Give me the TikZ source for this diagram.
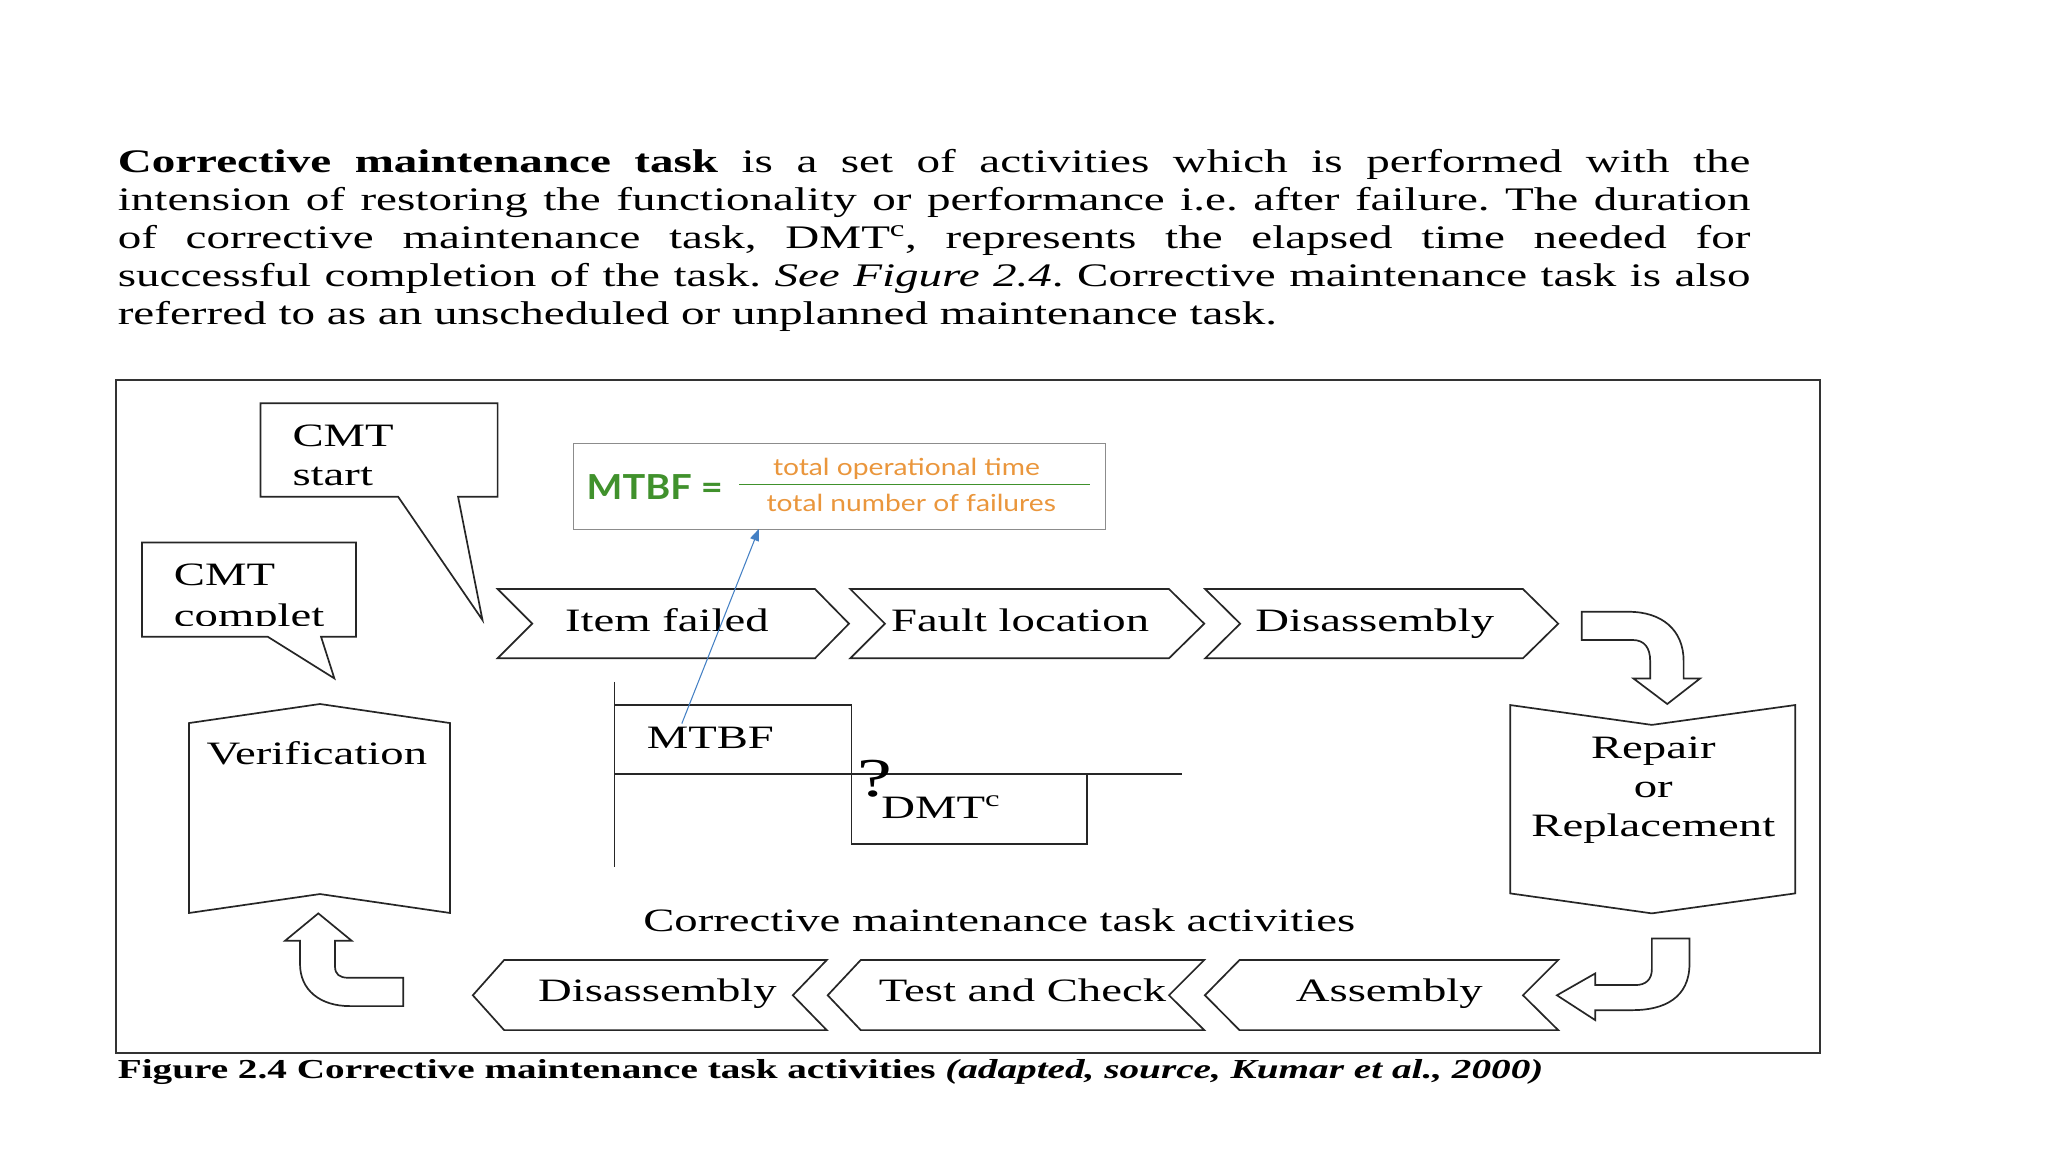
\documentclass[tikz,border=0pt]{standalone}
\usepackage{fontspec}
\setmainfont{Liberation Serif}[FakeStretch=1.43]
\newfontfamily\latofont{Lato}[FakeStretch=1.2]
\newfontfamily\latobold{Lato}[FakeStretch=1.1]
\usetikzlibrary{arrows.meta}
\definecolor{eqgreen}{RGB}{64,145,44}
\definecolor{eqorange}{RGB}{234,150,60}
\definecolor{linkblue}{RGB}{68,128,196}
\frenchspacing

\begin{document}
\begin{tikzpicture}[x=1pt, y=-1pt,
        outline/.style={draw=black!85, line width=1.3pt, fill=white},
        lbl/.style={inner sep=0pt, anchor=base west, font=\fontsize{25}{30}\selectfont},
        clbl/.style={inner sep=0pt, anchor=base, font=\fontsize{25}{30}\selectfont},
        para/.style={inner sep=0pt, anchor=base west, font=\fontsize{25.2}{29.5}\selectfont}]
            \fill[white] (0,0) rectangle (1568,882);
            \useasboundingbox (0,0) rectangle (1568,882);
            % 正文段落, 每行两端对齐
            \node[para] (par1) at (90,132)
                {\makebox[1250pt][s]{\textbf{Corrective maintenance task} is a set of activities which is performed with the}};
            \node[para] (par2) at (90,161.2)
                {\makebox[1250pt][s]{intension of restoring the functionality or performance i.e. after failure. The duration}};
            \node[para] (par3) at (90,190.4)
                {\makebox[1250pt][s]{of corrective maintenance task, DMT\textsuperscript{c}, represents the elapsed time needed for}};
            \node[para] (par4) at (90,219.6)
                {\makebox[1250pt][s]{successful completion of the task. \textit{See Figure 2.4}. Corrective maintenance task is also}};
            \node[para] (par5) at (90,248.8) {referred to as an unscheduled or unplanned maintenance task.};

            % 外框
            \draw[line width=1.5pt, black!80] (89,291) rectangle (1393.5,806.3);

            % 1. 两个对话框
            \draw[outline] (199.4,308.8) -- (381,308.8) -- (381,380.3) -- (350.7,380.3)
                -- (369.4,474.7) -- (304.8,380.3) -- (199.4,380.3) -- cycle;
            \node[lbl] (cmts1) at (223.8,342) {CMT};
            \node[lbl] (cmts2) at (223.8,371.4) {start};
            \draw[outline] (108.7,415.3) -- (272.6,415.3) -- (272.6,487.5) -- (245.8,487.5)
                -- (256,519.4) -- (205,487.5) -- (108.7,487.5) -- cycle;
            \node[lbl] (cmtc1) at (133,448) {CMT};
            \begin{scope}
                \clip (110,417) rectangle (271,479); % 文字下沿被框截掉
                \node[lbl] (cmtc2) at (133,479.6) {complet};
            \end{scope}

            % 2. 上排箭头块
            \draw[outline] (381,451) -- (624,451) -- (650,477.5) -- (624,504) -- (381,504) -- (407.5,477.5) -- cycle;
            \draw[outline] (651,451) -- (895,451) -- (922,477.5) -- (895,504) -- (651,504) -- (677.5,477.5) -- cycle;
            \draw[outline] (922.7,451) -- (1166,451) -- (1193,477.5) -- (1166,504) -- (922.7,504) -- (949.5,477.5) -- cycle;
            \node[lbl] (itemfailed) at (432.5,483.7) {Item failed};
            \node[lbl] (faultloc) at (682,483.7) {Fault location};
            \node[lbl] (disasmtop) at (961,483.7) {Disassembly};

            % 弯箭头 (右上)
            \draw[outline] (1211,468.4) -- (1247,468.4) .. controls (1272,468.4) and (1289,482) .. (1289,506)
                -- (1289,519.4) -- (1301.7,519.4) -- (1276.5,539) -- (1250.5,519.4) -- (1263.4,519.4)
                -- (1263.4,506) .. controls (1263.4,496) and (1259,490) .. (1250,490) -- (1211,490) -- cycle;

            % Repair / Verification
            \draw[outline] (1156.2,539.8) -- (1264.7,555) -- (1374.4,539.8) -- (1374.4,684)
                -- (1264.7,699.3) -- (1156.2,684) -- cycle;
            \node[clbl] (repair1) at (1265.8,580.6) {Repair};
            \node[clbl] (repair2) at (1265.8,610.3) {or};
            \node[clbl] (repair3) at (1265.8,640.6) {Replacement};
            \draw[outline] (144.7,553.6) -- (245,539) -- (344.6,553.6) -- (344.6,699)
                -- (245,684.5) -- (144.7,699) -- cycle;
            \node[lbl] (verif) at (158,585) {Verification};

            % 弯箭头 (右下)
            \draw[outline] (1264.7,718.5) -- (1293.5,718.5) -- (1293.5,738) .. controls (1293.5,764) and (1274,773.4) .. (1250,773.4)
                -- (1221.3,773.4) -- (1221.3,781) -- (1192,762) -- (1221.3,745.3) -- (1221.3,754.2)
                -- (1252,754.2) .. controls (1260,754.2) and (1264.7,750) .. (1264.7,742) -- cycle;

            % 3. 下排箭头块
            \draw[outline] (362,762) -- (386,735) -- (633,735) -- (607,762) -- (633,788.7) -- (386,788.7) -- cycle;
            \draw[outline] (633.7,762) -- (659,735) -- (922,735) -- (895,762) -- (922,788.7) -- (659,788.7) -- cycle;
            \draw[outline] (922.5,762) -- (949,735) -- (1193,735) -- (1166,762) -- (1193,788.7) -- (949,788.7) -- cycle;
            \node[lbl] (disasmbot) at (411.8,767) {Disassembly};
            \node[lbl] (testcheck) at (672.7,767) {Test and Check};
            \node[lbl] (assembly) at (992,767) {Assembly};
            \node[lbl] (activities) at (492.3,713.4) {Corrective maintenance task activities};

            % 弯箭头 (左下, 向上)
            \draw[outline] (243.7,699.3) -- (269.3,720.3) -- (256.5,720.3) -- (256.5,740)
                .. controls (256.5,746) and (260,748.6) .. (266.7,748.6) -- (308.8,748.6) -- (308.8,770.3)
                -- (268,770.3) .. controls (245,770.3) and (229.7,758) .. (229.7,738)
                -- (229.7,720.3) -- (218.2,720.3) -- cycle;

            % 4. MTBF 与 DMT 时间图
            \draw[line width=1.3pt, black!85] (470.4,522) -- (470.4,663.6);
            \draw[line width=1.3pt, black!85] (470.4,539.8) -- (652,539.8) -- (652,592.6);
            \draw[line width=1.3pt, black!85] (470.4,592.6) -- (905,592.6);
            \draw[line width=1.3pt, black!85] (652,592.6) -- (652,646) -- (832,646) -- (832,592.6);
            \node[lbl] (mtbf) at (495,573) {MTBF};
            \node[lbl] (dmt) at (674.6,626.6) {DMT\textsuperscript{c}};
            \node[inner sep=0pt, anchor=base, font=\fontsize{42}{42}\selectfont] (qmark) at (670,610) {?};

            % 公式框
            \node[draw=black!45, line width=0.7pt, minimum width=407.5pt, minimum height=65.5pt,
                inner sep=0pt] (formula) at (642.75,372.25) {};
            \node[inner sep=0pt, anchor=base west, text=eqgreen, font=\latobold\bfseries\fontsize{26.4}{30}\selectfont]
                (eqlhs) at (449,382.3) {MTBF =};
            \draw[eqgreen, line width=1.3pt] (566,371) -- (834.7,371);
            \node[inner sep=0pt, anchor=base, text=eqorange, font=\latofont\fontsize{18}{20}\selectfont]
                (eqnum) at (694,363.7) {total operational time};
            \node[inner sep=0pt, anchor=base, text=eqorange, font=\latofont\fontsize{18}{20}\selectfont]
                (eqden) at (697.7,391.8) {total number of failures};

            % 蓝色箭头
            \coordinate (arrstart) at (522,554);
            \coordinate (arrtip) at (581,405);
            \draw[linkblue, line width=0.8pt, -{Triangle[length=9pt,width=7pt]}] (arrstart) -- (arrtip);

            % 图题
            \node[inner sep=0pt, anchor=base west, font=\fontsize{21}{24}\selectfont\bfseries] (figcaption) at (90,826)
                {Figure 2.4 Corrective maintenance task activities \textit{(adapted, source, Kumar et al., 2000)}};
        \end{tikzpicture}
\end{document}
